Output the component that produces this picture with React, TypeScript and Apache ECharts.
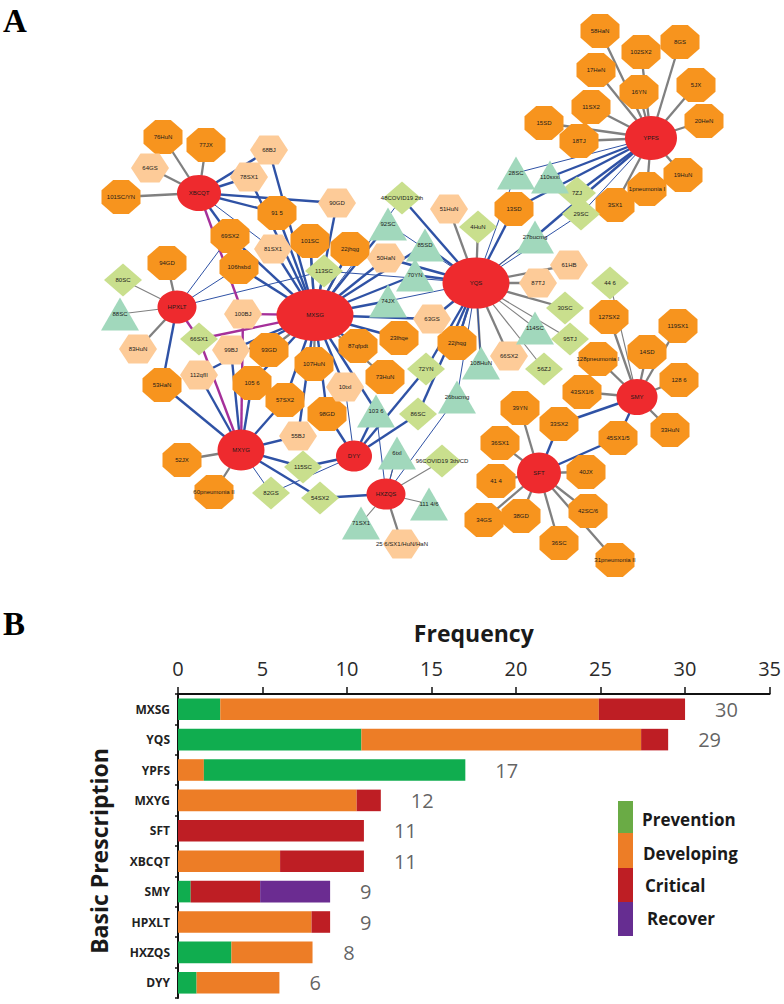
import React, { useEffect, useRef } from "react";
import * as echarts from "echarts";

// ---- Panel B data ----
const categories = ["MXSG", "YQS", "YPFS", "MXYG", "SFT", "XBCQT", "SMY", "HPXLT", "HXZQS", "DYY"];
const leadDeveloping = [0, 0, 1.53, 0, 0, 0, 0, 0, 0, 0];
const prevention = [2.5, 10.85, 15.47, 0, 0, 0, 0.75, 0, 3.16, 1.1];
const developing = [22.4, 16.55, 0, 10.57, 0, 6.04, 0, 7.9, 4.8, 4.9];
const critical = [5.1, 1.6, 0, 1.43, 11, 4.96, 4.11, 1.1, 0, 0];
const recover = [0, 0, 0, 0, 0, 0, 4.14, 0, 0, 0];
const totals = [30, 29, 17, 12, 11, 11, 9, 9, 8, 6];
const legendNames = ["Prevention", "Developing", "Critical", "Recover"];

// ---- Panel A data: [id, graph x, graph y] ----
const hubs: [string, number, number][] = [
  ["MXSG", 315, 315], ["YQS", 476, 283], ["YPFS", 651, 138], ["XBCQT", 199, 193], ["HPXLT", 177, 307],
  ["MXYG", 241, 450], ["DYY", 354, 456], ["HXZQS", 386, 494], ["SMY", 637, 397], ["SFT", 539, 473],
];
const octagons: [string, number, number][] = [
  ["76HuN", 163, 137], ["77JX", 206, 145], ["101SC/YN", 121, 197], ["91 5", 277, 213], ["69SX2", 230, 236],
  ["101SC", 310, 241], ["22jhqg", 350, 249], ["94GD", 167, 263], ["106hsbd", 239, 267], ["58HaN", 600, 31],
  ["8GS", 680, 42], ["102SX2", 641, 52], ["17HeN", 596, 70], ["5JX", 696, 85], ["16YN", 639, 92],
  ["11SX2", 591, 107], ["20HeN", 704, 121], ["15SD", 544, 123], ["18TJ", 579, 141], ["19HuN", 683, 175],
  ["1pneumonia I", 647, 189], ["3SX1", 615, 205], ["13SD", 514, 209], ["127SX2", 609, 317], ["119SX1", 678, 326],
  ["23lhqe", 399, 338], ["22jhqg ", 457, 343], ["87qfpdt", 358, 346], ["14SD", 647, 352], ["128pneumonia I", 598, 359],
  ["93GD", 269, 350], ["107HuN", 314, 364], ["73HuN", 385, 377], ["53HaN", 162, 385], ["105 6", 252, 383],
  ["128 6", 679, 380], ["57SX2", 285, 400], ["98GD", 327, 414], ["43SX1/6", 582, 392], ["39YN", 520, 408],
  ["33SX2", 559, 424], ["33HuN", 670, 430], ["45SX1/5", 618, 438], ["36SX1", 500, 443], ["40JX", 586, 472],
  ["41 4", 496, 481], ["52JX", 182, 460], ["60pneumonia II", 214, 492], ["42SC/6", 588, 511], ["34GS", 484, 520],
  ["38GD", 521, 516], ["36SC", 559, 543], ["31pneumonia II", 615, 560],
];
const hexagons: [string, number, number][] = [
  ["68BJ", 269, 150], ["64GS", 150, 168], ["78SX1", 249, 177], ["90GD", 337, 203], ["81SX1", 273, 249],
  ["100BJ", 243, 314], ["51HuN", 449, 209], ["50HaN", 386, 258], ["61HB", 569, 265], ["87TJ", 538, 283],
  ["63GS", 432, 319], ["66SX2", 509, 356], ["83HuN", 138, 349], ["99BJ", 231, 350], ["112qfII", 199, 375],
  ["10txl", 345, 387], ["55BJ", 298, 436], ["25 6/SX1/HuN/HaN", 402, 544],
];
const diamonds: [string, number, number][] = [
  ["113SC", 324, 271], ["80SC", 123, 280], ["66SX1", 199, 339], ["48COVID19 2th", 402, 198], ["7ZJ", 577, 193],
  ["29SC", 581, 214], ["4HuN", 478, 227], ["44 6", 610, 283], ["30SC", 565, 308], ["95TJ", 570, 339],
  ["72YN", 426, 369], ["56ZJ", 544, 369], ["86SC", 418, 414], ["96COVID19 3th/CD", 442, 461], ["115SC", 303, 467],
  ["82GS", 271, 493], ["54SX2", 320, 498],
];
const triangles: [string, number, number][] = [
  ["88SC", 120, 314], ["28SC", 516, 173], ["110sxxl", 550, 177], ["92SC", 388, 224], ["85SD", 425, 245],
  ["27bucmg", 535, 237], ["70YN", 415, 275], ["74JX", 388, 301], ["114SC", 535, 328], ["108HuN", 481, 363],
  ["26bucmg", 457, 397], ["103 6", 376, 411], ["6txl", 397, 453], ["111 4/6", 429, 504], ["71SX1", 361, 523],
];

const blueWide: Record<string, string[]> = {
  XBCQT: ["68BJ", "78SX1", "90GD", "91 5", "69SX2"],
  MXSG: ["68BJ", "78SX1", "91 5", "90GD", "69SX2", "81SX1", "106hsbd", "101SC", "22jhqg", "92SC", "85SD", "50HaN", "70YN", "74JX", "63GS", "23lhqe", "87qfpdt", "10txl", "103 6", "98GD", "57SX2", "55BJ", "105 6", "99BJ", "112qfII"],
  YQS: ["13SD", "85SD", "70YN", "50HaN", "48COVID19 2th", "22jhqg ", "63GS", "72YN", "86SC"],
  YPFS: ["13SD", "110sxxl", "7ZJ", "27bucmg"],
  MXYG: ["53HaN", "112qfII", "99BJ", "105 6", "57SX2", "55BJ", "115SC", "54SX2"],
  DYY: ["98GD", "103 6", "115SC", "86SC", "72YN"],
  HXZQS: ["54SX2"],
  HPXLT: ["53HaN"],
  SMY: ["33SX2", "45SX1/5"],
  SFT: ["33SX2", "45SX1/5"],
};
const blueThin: Record<string, string[]> = {
  XBCQT: ["81SX1"],
  YQS: ["13SD", "28SC", "29SC", "27bucmg", "92SC", "74JX", "113SC", "26bucmg", "108HuN"],
  MXSG: ["48COVID19 2th"],
  YPFS: ["28SC", "29SC"],
  HPXLT: ["106hsbd", "113SC", "69SX2"],
  MXYG: ["82GS"],
  DYY: ["10txl", "82GS"],
  HXZQS: ["103 6", "26bucmg", "6txl"],
};
const grayWide: Record<string, string[]> = {
  XBCQT: ["76HuN", "77JX", "101SC/YN", "64GS"],
  YPFS: ["58HaN", "8GS", "102SX2", "17HeN", "5JX", "16YN", "11SX2", "20HeN", "15SD", "18TJ", "19HuN", "1pneumonia I", "3SX1"],
  MXSG: ["113SC", "101SC", "22jhqg", "73HuN", "93GD", "107HuN"],
  YQS: ["51HuN", "4HuN", "61HB", "87TJ", "30SC", "66SX2", "108HuN", "22jhqg "],
  SMY: ["127SX2", "14SD", "119SX1", "128 6", "33HuN", "43SX1/6", "128pneumonia I"],
  SFT: ["39YN", "36SX1", "41 4", "40JX", "34GS", "38GD", "36SC", "42SC/6", "31pneumonia II"],
  MXYG: ["52JX", "60pneumonia II"],
  HXZQS: ["25 6/SX1/HuN/HaN"],
  HPXLT: ["94GD", "83HuN"],
};
const grayThin: Record<string, string[]> = {
  HPXLT: ["80SC", "88SC"],
  YQS: ["27bucmg", "95TJ", "56ZJ", "114SC"],
  SMY: ["44 6", "128pneumonia I"],
  HXZQS: ["71SX1", "111 4/6", "96COVID19 3th/CD", "6txl"],
};
const purple: Record<string, string[]> = {
  XBCQT: ["100BJ"],
  MXSG: ["100BJ", "66SX1"],
  MXYG: ["100BJ", "66SX1"],
  HPXLT: ["66SX1"],
};

const OCTAGON = "path://M30 0H70L100 30V70L70 100H30L0 70V30Z";
const HEXAGON = "path://M25 0H75L100 50L75 100H25L0 50Z";
const hubSizes: Record<string, number[]> = {
  MXSG: [77, 52], YQS: [67, 51], YPFS: [52, 44], XBCQT: [44, 36], HPXLT: [39, 33],
  MXYG: [47, 41], DYY: [36, 31], HXZQS: [39, 31], SMY: [41, 36], SFT: [44, 41],
};

function nodeSet(list: [string, number, number][], symbol: (id: string) => string, size: (id: string) => number[], color: string) {
  return list.map(([id, x, y]) => ({
    id,
    name: id.trim(),
    value: [x, y],
    symbol: symbol(id),
    symbolSize: size(id),
    itemStyle: { color },
  }));
}

function linkSet(table: Record<string, string[]>, color: string, width: number) {
  const out: any[] = [];
  Object.keys(table).forEach((hub) => {
    table[hub].forEach((t) => out.push({ source: hub, target: t, lineStyle: { color, width, opacity: 1, curveness: 0 } }));
  });
  return out;
}

export default function App() {
  const ref = useRef<HTMLDivElement>(null);
  useEffect(() => {
    const chart = echarts.init(ref.current!, undefined, { renderer: "svg" });
    const ui = "'Open Sans', sans-serif";
    const barSeries = (name: string, data: number[], color: string) => ({
      name, type: "bar", stack: "all", xAxisIndex: 1, yAxisIndex: 1, data, barCategoryGap: "29%", itemStyle: { color },
    });
    const legendColors = ["#6AAB45", "#ED7D26", "#BE1E24", "#662D91"];
    const legendTops = [801, 833, 868, 902];
    const legendHeights = [32, 35, 35, 34];
    const legendTextX = [642, 643, 645, 647];
    const legendTextY = [819, 853, 885, 918];
    chart.setOption({
      animation: false,
      backgroundColor: "#fff",
      grid: [
        { left: 0, top: 0, width: 784, height: 600 },
        { left: 178, top: 694, width: 595, height: 304 },
      ],
      xAxis: [
        { type: "value", gridIndex: 0, min: 0, max: 784, show: false },
        {
          type: "value", gridIndex: 1, position: "top", min: 0, max: 35, interval: 5,
          name: "Frequency", nameLocation: "middle", nameGap: 50,
          nameTextStyle: { fontFamily: ui, fontWeight: "bold", fontSize: 23, color: "#1a1a1a" },
          axisLine: { show: true, lineStyle: { color: "#111", width: 2 } },
          axisTick: { show: true, length: 7, lineStyle: { color: "#111", width: 1.5 } },
          axisLabel: { fontFamily: ui, fontSize: 20, color: "#2a2a2a", margin: 16 },
          splitLine: { show: false },
        },
      ],
      yAxis: [
        { type: "value", gridIndex: 0, min: 0, max: 600, inverse: true, show: false },
        {
          type: "category", gridIndex: 1, inverse: true, data: categories,
          name: "Basic Prescription", nameLocation: "middle", nameGap: 68, nameRotate: 90,
          nameTextStyle: { fontFamily: ui, fontWeight: "bold", fontSize: 23, color: "#1a1a1a", padding: [0, 10, 0, 0] },
          axisLine: { show: true, lineStyle: { color: "#111", width: 2 } },
          axisTick: { show: true, length: 3, lineStyle: { color: "#111", width: 1.5 } },
          axisLabel: { fontFamily: ui, fontWeight: "bold", fontSize: 12, color: "#222", margin: 8 },
        },
      ],
      series: [
        {
          type: "graph",
          coordinateSystem: "cartesian2d",
          xAxisIndex: 0,
          yAxisIndex: 0,
          layout: "none",
          roam: false,
          label: { show: true, position: "inside", fontFamily: "'Liberation Sans', Arial, sans-serif", fontSize: 6, color: "#1a1a1a" },
          emphasis: { disabled: true },
          data: [
            ...nodeSet(octagons, () => OCTAGON, () => [39, 34], "#F7941E"),
            ...nodeSet(hexagons, () => HEXAGON, () => [38, 29], "#FDCB98"),
            ...nodeSet(diamonds, () => "diamond", () => [38, 33], "#C9DF8D"),
            ...nodeSet(triangles, () => "triangle", () => [38, 33], "#A1D8BC"),
            ...nodeSet(hubs, () => "circle", (id) => hubSizes[id], "#EE2A2E"),
          ],
          links: [
            ...linkSet(grayThin, "#808080", 1.1),
            ...linkSet(grayWide, "#808080", 2.3),
            ...linkSet(blueThin, "#2F52A5", 1),
            ...linkSet(blueWide, "#2F52A5", 2.4),
            ...linkSet(purple, "#A5309A", 2.4),
          ],
        },
        barSeries("Developing (lead)", leadDeveloping, "#ED7D26"),
        barSeries("Prevention", prevention, "#10AD4F"),
        barSeries("Developing", developing, "#ED7D26"),
        barSeries("Critical", critical, "#BE1E24"),
        barSeries("Recover", recover, "#6B2C91"),
        {
          type: "scatter", xAxisIndex: 1, yAxisIndex: 1, symbolSize: 0,
          data: totals.map((t, i) => [t, categories[i]]),
          label: {
            show: true, position: "right", distance: 30,
            formatter: (p: any) => String(p.value[0]),
            fontFamily: ui, fontSize: 20, color: "#3a3a3a",
          },
        },
      ],
      graphic: [
        { type: "text", left: 3, top: 4, style: { text: "A", fontFamily: "'Liberation Serif', serif", fontWeight: "bold", fontSize: 33, fill: "#000" } },
        { type: "text", left: 3, top: 607, style: { text: "B", fontFamily: "'Liberation Serif', serif", fontWeight: "bold", fontSize: 33, fill: "#000" } },
        ...legendNames.map((_, i) => ({
          type: "rect", shape: { x: 618, y: legendTops[i], width: 15, height: legendHeights[i] }, style: { fill: legendColors[i] },
        })),
        ...legendNames.map((n, i) => ({
          type: "text", x: legendTextX[i], y: legendTextY[i],
          style: { text: n, fontFamily: ui, fontWeight: "bold", fontSize: 17, fill: "#1a1a1a", verticalAlign: "middle" },
        })),
      ],
    });
    return () => chart.dispose();
  }, []);
  return <div ref={ref} style={{ position: "absolute", left: 0, top: 0, width: 784, height: 1004 }} />;
}
